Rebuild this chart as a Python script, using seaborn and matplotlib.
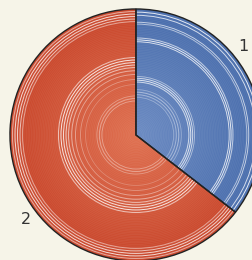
import numpy as np
import matplotlib
matplotlib.use("Agg")
import matplotlib.pyplot as plt
import seaborn as sns
from matplotlib.colors import LinearSegmentedColormap

# Data
labels = ["1", "2"]
values = [35.5, 64.5]

# Styling
BG = "#f6f4e8"
centre_colors = ["#6d8cc3", "#e07252"]
edge_colors = ["#4a6ead", "#c9462b"]
label_angles = [39.5, 217.5]   # where the labels sit (degrees)

# white grooves: (radius, alpha) per wedge
grooves = [
    [(0.30, .3), (0.32, .4), (0.34, .45), (0.36, .3),
     (0.42, .7), (0.435, .8), (0.45, .7), (0.465, .45),
     (0.74, .75), (0.755, .85), (0.77, .65),
     (0.88, .55), (0.895, .65),
     (0.95, .75), (0.975, .85)],
    [(0.27, .35), (0.29, .4), (0.31, .3),
     (0.40, .2), (0.44, .3), (0.48, .4), (0.51, .5), (0.535, .6),
     (0.555, .7), (0.575, .8), (0.595, .85), (0.615, .65),
     (0.90, .5), (0.92, .65), (0.94, .75), (0.96, .8), (0.98, .55)],
]

sns.set_theme(style="white")
plt.rcParams["font.family"] = ["DejaVu Sans"]

fig = plt.figure(figsize=(2.52, 2.60), dpi=100, facecolor=BG)
ax = fig.add_axes([0, 0, 1, 1])
ax.set_facecolor(BG)

wedges, _ = ax.pie(values, startangle=90, counterclock=False,
                   colors=edge_colors,
                   wedgeprops=dict(edgecolor="#222222", linewidth=1.0))

# radial gradient inside each wedge
n = 400
xx, yy = np.meshgrid(np.linspace(-1, 1, n), np.linspace(-1, 1, n))
rr = np.clip(np.hypot(xx, yy), 0, 1)
for w, c0, c1, rings in zip(wedges, centre_colors, edge_colors, grooves):
    cmap = LinearSegmentedColormap.from_list("g", [c0, c1])
    im = ax.imshow(rr, cmap=cmap, extent=(-1, 1, -1, 1), origin="lower",
                   vmin=0, vmax=1, zorder=1.5)
    im.set_clip_path(w)
    # faint fine texture
    for r in np.arange(0.05, 1.0, 0.013):
        c = plt.Circle((0, 0), r, fill=False, color="white", lw=0.4,
                       alpha=0.07, zorder=1.6)
        ax.add_patch(c)
        c.set_clip_path(w)
    for r, a in rings:
        c = plt.Circle((0, 0), r, fill=False, color="white", lw=0.7,
                       alpha=a, zorder=1.7)
        ax.add_patch(c)
        c.set_clip_path(w)

# redraw outlines on top
for w in wedges:
    w.set_zorder(2)
    w.set_facecolor("none")

for lab, ang in zip(labels, label_angles):
    t = np.deg2rad(ang)
    ax.text(1.10 * np.cos(t), 1.10 * np.sin(t), lab, fontsize=11.5,
            color="#333333", ha="center", va="center")

ax.set_xlim(-1.079, 0.921)
ax.set_ylim(-0.992, 1.071)
ax.set_aspect("equal")
ax.axis("off")

fig.savefig("out.png", dpi=100, facecolor=BG)
